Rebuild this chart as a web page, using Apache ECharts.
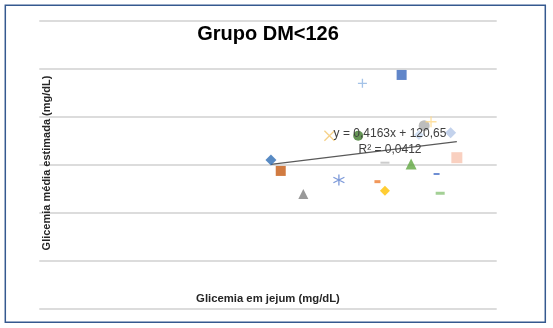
<!DOCTYPE html>
<html><head><meta charset="utf-8">
<script src="https://cdn.jsdelivr.net/npm/echarts@6/dist/echarts.min.js"></script>
<style>html,body{margin:0;padding:0;background:#fff}#c{width:553px;height:328px}</style>
</head><body><div id="c"></div>
<script>
// Data (one Excel series per point)
const fastingGlucose = [70.9, 73.9, 80.8, 88.8, 91.7, 97.6, 98.9, 110.9, 105.8, 103.5, 105.8, 113.8, 117.8, 119.9, 125.9, 127.8, 121.6, 122.7, 116.2];
const estimatedAvgGlucose = [154.7, 143.3, 119.3, 180.0, 133.8, 180.0, 234.7, 243.4, 151.9, 132.1, 122.7, 150.5, 190.5, 194.6, 183.2, 157.1, 140.1, 120.0, 180.8];
const trendSlope = 0.4163;
const trendIntercept = 120.65;
const chartTitle = 'Grupo DM<126';
const xTitle = 'Glicemia em jejum (mg/dL)';
const yTitle = 'Glicemia média estimada (mg/dL)';
const eqText = 'y = 0,4163x + 120,65';
const r2Text = 'R² = 0,0412';

// Styles per point
const P_X = 'path://M0,0L10,10M10,0L0,10';
const P_PLUS = 'path://M5,0L5,10M0,5L10,5';
const P_STAR = 'path://M5,0L5,10M0.7,2.5L9.3,7.5M0.7,7.5L9.3,2.5';
const styles = [
  {s:'diamond', size:11, c:'#2E6DB4'},
  {s:'rect', size:10, c:'#C55A11'},
  {s:'triangle', size:10, c:'#7F7F7F'},
  {s:P_X, size:10, c:'#F2C56B', line:true},
  {s:P_STAR, size:11, c:'#5B7FD0', line:true},
  {s:'circle', size:10, c:'#3F7A2A'},
  {s:P_PLUS, size:9, c:'#8DB4E2', line:true},
  {s:'rect', size:10, c:'#3A68BC'},
  {s:'rect', size:[9,2], c:'#BFBFBF'},
  {s:'rect', size:[6,3], c:'#ED7D31'},
  {s:'diamond', size:10, c:'#FFC000'},
  {s:'triangle', size:11, c:'#5FA640'},
  {s:'circle', size:11, c:'#ADADAD'},
  {s:P_PLUS, size:11, c:'#FFD98A', line:true},
  {s:'diamond', size:11, c:'#B4C7E7'},
  {s:'rect', size:11, c:'#F8C4B0'},
  {s:'rect', size:[6,2], c:'#4A72C8'},
  {s:'rect', size:[9,3], c:'#8CC47A'},
  {s:'diamond', size:10, c:'#C9DBF2'}
];

const series = fastingGlucose.map((x, i) => {
  const st = styles[i];
  return {
    type: 'scatter',
    data: [[x, estimatedAvgGlucose[i]]],
    symbol: st.s,
    symbolSize: st.size,
    itemStyle: st.line ? {color: 'rgba(0,0,0,0)', borderColor: st.c, borderWidth: 1.3} : {color: st.c},
    z: 3,
    silent: true
  };
});

const xMin = Math.min(...fastingGlucose), xMax = Math.max(...fastingGlucose);
series.push({
  type: 'line',
  data: [[xMin, trendSlope * xMin + trendIntercept], [xMax, trendSlope * xMax + trendIntercept]],
  symbol: 'none',
  lineStyle: {color: '#595959', width: 1.2},
  z: 2,
  silent: true
});

const chart = echarts.init(document.getElementById('c'));
chart.setOption({
  animation: false,
  backgroundColor: '#fff',
  grid: {left: 39.3, right: 56.3, top: 20.7, bottom: 19.7},
  xAxis: {type: 'value', min: 0, max: 140, interval: 20,
    axisLine: {show: false}, axisTick: {show: false}, axisLabel: {show: false}, splitLine: {show: false}},
  yAxis: {type: 'value', min: 0, max: 300, interval: 50,
    axisLine: {show: false}, axisTick: {show: false}, axisLabel: {show: false},
    splitLine: {show: true, lineStyle: {color: '#D0D0D0', width: 1.6}}},
  graphic: [
    {type: 'rect', shape: {x: 5.3, y: 5.3, width: 540, height: 317}, style: {fill: 'none', stroke: '#35598F', lineWidth: 1.5}, z: 10},
    {type: 'text', x: 268, y: 34, style: {text: chartTitle, font: 'bold 20px "Liberation Sans", Arial, sans-serif', fill: '#000', align: 'center', verticalAlign: 'middle'}, z: 10},
    {type: 'text', x: 268, y: 299, style: {text: xTitle, font: 'bold 11.3px "Liberation Sans", Arial, sans-serif', fill: '#262626', align: 'center', verticalAlign: 'middle'}, z: 10},
    {type: 'text', x: 47, y: 163, rotation: Math.PI / 2, style: {text: yTitle, font: 'bold 11px "Liberation Sans", Arial, sans-serif', fill: '#262626', align: 'center', verticalAlign: 'middle'}, z: 10},
    {type: 'text', x: 390, y: 134, style: {text: eqText, font: '12px "Liberation Sans", Arial, sans-serif', fill: '#404040', align: 'center', verticalAlign: 'middle'}, z: 10},
    {type: 'text', x: 390, y: 150, style: {text: r2Text, font: '12px "Liberation Sans", Arial, sans-serif', fill: '#404040', align: 'center', verticalAlign: 'middle'}, z: 10}
  ],
  series: series
});
</script></body></html>
